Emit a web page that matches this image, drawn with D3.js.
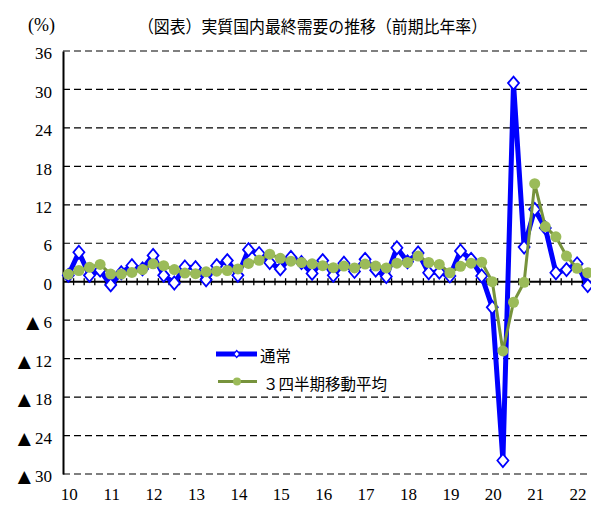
<!DOCTYPE html>
<html><head><meta charset="utf-8">
<script src="https://cdn.jsdelivr.net/npm/d3@7"></script>
<style>body{margin:0;background:#fff;overflow:hidden} svg{display:block}</style>
</head><body>
<svg id="c" width="591" height="507"></svg>
<script>
const yearLabels = ["10","11","12","13","14","15","16","17","18","19","20","21","22"];
const quarterNames = ["Q1","Q2","Q3","Q4"];
const categories = yearLabels.flatMap(y => quarterNames.map(q => y + q)).slice(0, 50);
const seriesNames = ["通常", "３四半期移動平均"];
const normal = [
  1.0, 4.6, 1.0, 1.8, -0.5, 1.4, 2.5, 2.0, 4.1, 1.0,
  -0.2, 2.3, 2.2, 0.3, 2.5, 3.3, 1.0, 5.0, 4.4, 3.0,
  2.0, 3.8, 3.0, 1.3, 3.3, 1.0, 2.9, 1.6, 3.5, 1.8,
  0.8, 5.3, 3.1, 4.5, 1.4, 1.5, 0.9, 4.8, 3.5, 0.9,
  -4.0, -27.9, 31.0, 5.4, 11.3, 8.4, 1.4, 1.9, 2.8, -0.6
];
const movingAvg = [
  1.15, 1.75, 2.25, 2.7, 1.2, 1.2, 1.45, 1.9, 2.8, 2.5,
  1.9, 1.35, 1.25, 1.55, 1.65, 1.75, 2.0, 2.85, 3.35, 4.3,
  3.65, 3.2, 3.0, 2.8, 2.5, 2.2, 2.45, 2.15, 2.75, 2.45,
  2.15, 2.9, 3.0, 4.0, 3.0, 2.7, 1.4, 2.4, 2.9, 3.05,
  0.0, -10.8, -3.2, -0.1, 15.3, 8.6, 7.0, 4.0, 2.1, 1.4
];
const yTicks = [-30, -24, -18, -12, -6, 0, 6, 12, 18, 24, 30, 36];
const titleText = "（図表）実質国内最終需要の推移（前期比年率）";
const unitText = "(%)";

(function () {
const svg = d3.select("#c");
const pLeft = 63, pRight = 593, pTop = 51, pBottom = 474;
const x = d3.scaleBand().domain(categories).range([pLeft, pRight]).paddingInner(0).paddingOuter(0);
const y = d3.scaleLinear().domain([-30, 36]).range([pBottom, pTop]);
const cx = c => x(c) + x.bandwidth() / 2;
const serif = "'Liberation Serif','DejaVu Serif',serif";
const cjk = "'Noto Sans CJK JP','Noto Sans',sans-serif";

// title and unit
svg.append("text").attr("x", 138).attr("y", 25).attr("dominant-baseline", "central")
  .attr("font-family", cjk).attr("font-size", 17).attr("textLength", 349)
  .attr("lengthAdjust", "spacingAndGlyphs").text(titleText);
svg.append("text").attr("x", 28).attr("y", 25).attr("dominant-baseline", "central")
  .attr("font-family", serif).attr("font-size", 18).text(unitText);

// gridlines
svg.append("g").selectAll("line").data(yTicks.filter(v => v !== 0)).join("line")
  .attr("x1", pLeft).attr("x2", 591).attr("y1", d => y(d)).attr("y2", d => y(d))
  .attr("stroke", "#000").attr("stroke-width", 1.2).attr("stroke-dasharray", "7,4");

// y axis
const yAxis = d3.axisLeft(y).tickValues(yTicks).tickSize(0).tickPadding(11)
  .tickFormat(v => v < 0 ? "▲ " + (-v) : String(v));
const gy = svg.append("g").attr("transform", `translate(${pLeft},0)`).call(yAxis);
gy.select(".domain").attr("stroke", "#000").attr("stroke-width", 2);
gy.selectAll("text").attr("font-family", serif).attr("font-size", 17).attr("fill", "#000").attr("dy", "0.45em")
  .each(function (d) {
    if (d < 0) {
      const t = d3.select(this);
      t.text(null);
      t.append("tspan").attr("font-family", "'DejaVu Sans',sans-serif").attr("font-size", 17).text("▲");
      t.append("tspan").text(" " + (-d));
    }
  });

// zero line with quarter ticks
const zeroY = y(0);
svg.append("line").attr("x1", pLeft).attr("x2", 591).attr("y1", zeroY).attr("y2", zeroY)
  .attr("stroke", "#000").attr("stroke-width", 1.8);
svg.append("g").selectAll("line").data(categories).join("line")
  .attr("x1", d => x(d) + x.bandwidth()).attr("x2", d => x(d) + x.bandwidth())
  .attr("y1", zeroY - 3.5).attr("y2", zeroY + 3.5)
  .attr("stroke", "#000").attr("stroke-width", 1.3);

// x labels
const xAxis = d3.axisBottom(x).tickValues(categories.filter(c => c.endsWith("Q1")))
  .tickSize(0).tickPadding(0).tickFormat(c => c.slice(0, 2));
const gx = svg.append("g").attr("transform", `translate(1,488)`).call(xAxis);
gx.select(".domain").remove();
gx.selectAll("text").attr("font-family", serif).attr("font-size", 17).attr("fill", "#000").attr("dy", "0.71em");

// legend
const lg = svg.append("g");
lg.append("rect").attr("x", 176).attr("y", 340).attr("width", 252).attr("height", 52).attr("fill", "#fff");
lg.append("line").attr("x1", 216).attr("x2", 257).attr("y1", 354).attr("y2", 354)
  .attr("stroke", "#0000FF").attr("stroke-width", 5);
lg.append("path").attr("d", "M236.7,350.5 L239.7,354 L236.7,357.5 L233.7,354 Z")
  .attr("fill", "#fff").attr("stroke", "#0000FF").attr("stroke-width", 1.2);
lg.append("text").attr("x", 260).attr("y", 355).attr("dominant-baseline", "central")
  .attr("font-family", cjk).attr("font-size", 15.5).text(seriesNames[0]);
lg.append("line").attr("x1", 218).attr("x2", 257).attr("y1", 381.5).attr("y2", 381.5)
  .attr("stroke", "#77933C").attr("stroke-width", 3);
lg.append("circle").attr("cx", 237).attr("cy", 381.5).attr("r", 4).attr("fill", "#9BBB59");
lg.append("text").attr("x", 263).attr("y", 383).attr("dominant-baseline", "central")
  .attr("font-family", cjk).attr("font-size", 15.5).text(seriesNames[1]);

// blue series
const line = d3.line().x((d, i) => cx(categories[i])).y(d => y(d));
svg.append("path").datum(normal).attr("d", line).attr("fill", "none")
  .attr("stroke", "#0000FF").attr("stroke-width", 5).attr("stroke-linejoin", "round");
const dw = 5.5, dh = 6.5;
svg.append("g").selectAll("path").data(normal).join("path")
  .attr("d", (d, i) => {
    const px = cx(categories[i]), py = y(d);
    return `M${px},${py - dh} L${px + dw},${py} L${px},${py + dh} L${px - dw},${py} Z`;
  })
  .attr("fill", "#fff").attr("stroke", "#0000FF").attr("stroke-width", 1.8);

// green series
svg.append("path").datum(movingAvg).attr("d", line).attr("fill", "none")
  .attr("stroke", "#77933C").attr("stroke-width", 3).attr("stroke-linejoin", "round");
svg.append("g").selectAll("circle").data(movingAvg).join("circle")
  .attr("cx", (d, i) => cx(categories[i])).attr("cy", d => y(d)).attr("r", 5.5)
  .attr("fill", "#9BBB59");
})();
</script>
</body></html>
